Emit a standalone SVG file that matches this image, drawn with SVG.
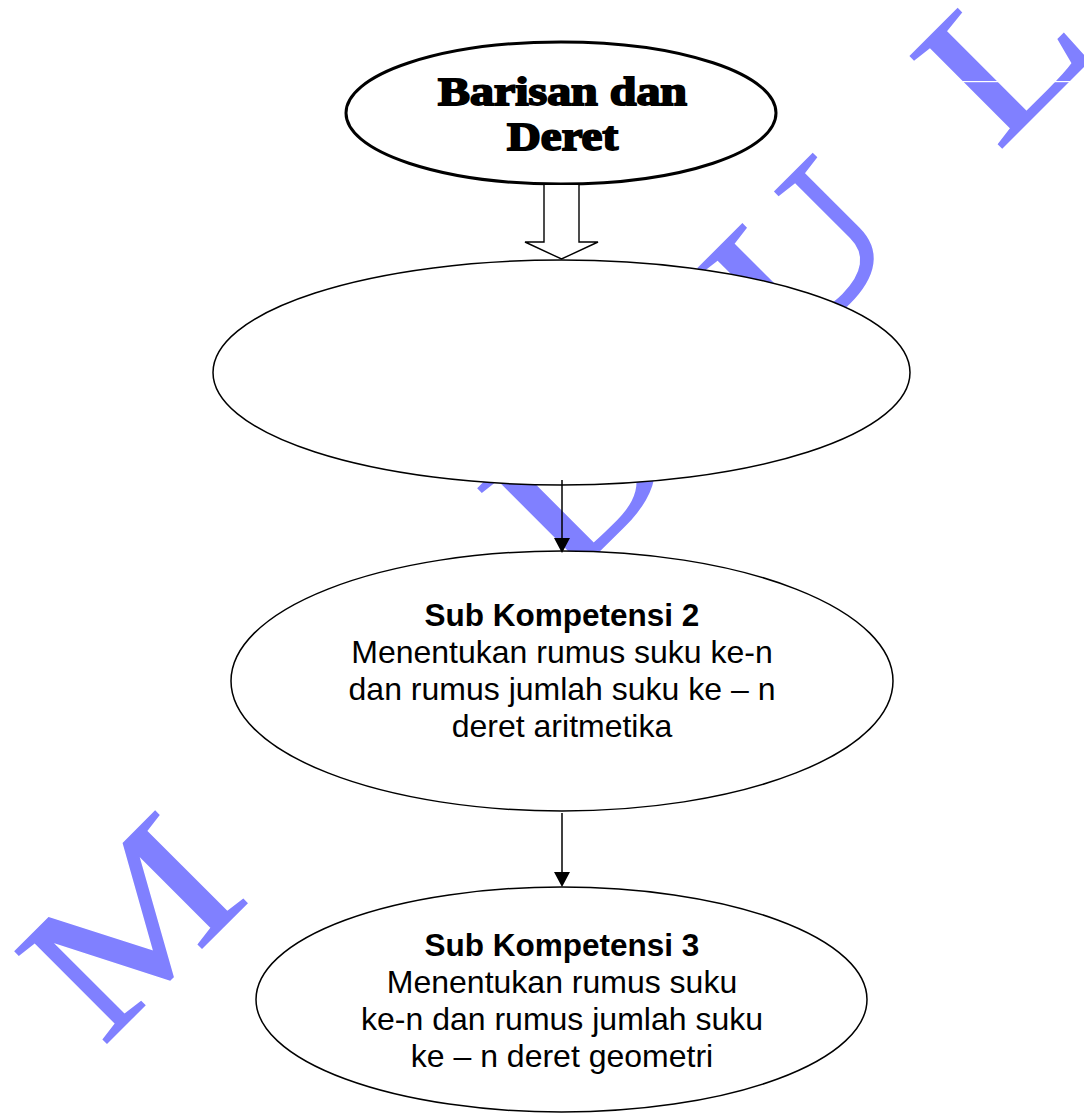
<svg xmlns="http://www.w3.org/2000/svg" width="1084" height="1120" viewBox="0 0 1084 1120">
  <style>
    .wm { font-family: "Liberation Serif", "Times New Roman", serif; font-size: 198px; fill: #8080FF; stroke: #8080FF; stroke-width: 1.5; text-anchor: middle; }
    .node { fill: #FFFFFF; stroke: #000000; stroke-width: 1.5; }
    .title { font-family: "Liberation Serif", "DejaVu Serif", serif; font-weight: bold; font-size: 39px; fill: #000000; stroke: #000000; stroke-width: 1.8; text-anchor: middle; }
    .lbl { font-family: "Liberation Sans", Arial, sans-serif; font-size: 32px; fill: #000000; text-anchor: middle; }
    .lbl-b { font-weight: bold; font-size: 31.5px; }
    .edge { stroke: #000000; stroke-width: 1.5; fill: none; }
  </style>
  <defs>
    <marker id="head" markerUnits="userSpaceOnUse" markerWidth="16" markerHeight="16" refX="0" refY="8" orient="auto">
      <path d="M0,0 L15,8 L0,16 z" fill="#000000"/>
    </marker>
  </defs>

  <rect width="1084" height="1120" fill="#FFFFFF"/>

  <!-- background watermark, set along the diagonal -->
  <g id="watermark" transform="translate(575,575) rotate(-45)">
    <text class="wm" transform="translate(-563,0) scale(1.2,1)">M</text>
    <text class="wm" transform="translate(-235,0) scale(1.2,1)">O</text>
    <text class="wm" transform="translate(72,0) scale(1.2,1)">D</text>
    <text class="wm" transform="translate(385,0) scale(1.2,1)">U</text>
    <text class="wm" transform="translate(670,0) scale(1.2,1)">L</text>
  </g>
  <rect x="880" y="81" width="204" height="1.2" fill="#FFFFFF"/>

  <!-- nodes -->
  <g id="node-barisan">
    <ellipse cx="561" cy="113" rx="215" ry="71" fill="#FFFFFF" stroke="#000000" stroke-width="3"/>
    <text class="title" x="562.5" y="105" textLength="249" lengthAdjust="spacingAndGlyphs">Barisan dan</text>
    <text class="title" x="562.5" y="150" textLength="111" lengthAdjust="spacingAndGlyphs">Deret</text>
  </g>

  <g id="node-sk1">
    <ellipse class="node" cx="561.5" cy="372.5" rx="348.5" ry="112.5"/>
  </g>

  <g id="node-sk2">
    <ellipse class="node" cx="562" cy="681" rx="331" ry="130"/>
    <text class="lbl lbl-b" x="562" y="626">Sub Kompetensi 2</text>
    <text class="lbl" x="562" y="663">Menentukan rumus suku ke-n</text>
    <text class="lbl" x="562" y="700">dan rumus jumlah suku ke – n</text>
    <text class="lbl" x="562" y="737">deret aritmetika</text>
  </g>

  <g id="node-sk3">
    <ellipse class="node" cx="561.5" cy="999.5" rx="305.5" ry="112.5"/>
    <text class="lbl lbl-b" x="562" y="956">Sub Kompetensi 3</text>
    <text class="lbl" x="562" y="993">Menentukan rumus suku</text>
    <text class="lbl" x="562" y="1030">ke-n dan rumus jumlah suku</text>
    <text class="lbl" x="562" y="1067">ke – n deret geometri</text>
  </g>

  <!-- connectors -->
  <g id="connectors">
    <path d="M544,185 L544,242 L525,242 L561.5,259 L598,242 L579,242 L579,185" fill="#FFFFFF" stroke="#000000" stroke-width="1.4" stroke-linejoin="miter"/>
    <line class="edge" x1="562" y1="480" x2="562" y2="538" marker-end="url(#head)"/>
    <line class="edge" x1="562" y1="813" x2="562" y2="872" marker-end="url(#head)"/>
  </g>
</svg>
